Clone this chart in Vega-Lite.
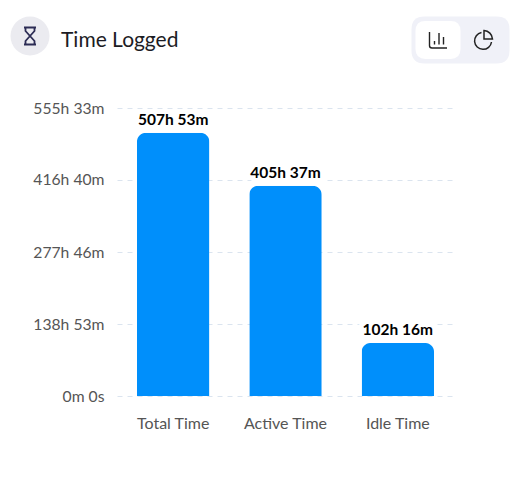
{
  "$schema": "https://vega.github.io/schema/vega-lite/v6.json",
  "width": 337,
  "height": 288,
  "autosize": {"type": "none"},
  "padding": {"left": 117, "top": 108, "right": 60, "bottom": 89},
  "background": "#ffffff",
  "config": {"view": {"stroke": null}, "font": "Lato"},
  "title": {"text": "Time Logged", "anchor": "start", "frame": "group", "dx": -56, "offset": -35, "fontSize": 21, "fontWeight": 400, "font": "Lato", "color": "#1c1c24"},
  "resolve": {"scale": {"x": "independent", "y": "independent"}},
  "layer": [
    {
      "data": {"values": [
        {"metric": "Total Time", "hours": 507.883, "label": "507h 53m"},
        {"metric": "Active Time", "hours": 405.617, "label": "405h 37m"},
        {"metric": "Idle Time", "hours": 102.267, "label": "102h 16m"}
      ]},
      "encoding": {
        "x": {"field": "metric", "type": "nominal", "sort": null, "scale": {"paddingInner": 0.355, "paddingOuter": 0.1775},
          "axis": {"title": null, "domain": false, "ticks": false, "labelAngle": 0, "labelPadding": 19, "labelFont": "Lato", "labelFontSize": 16, "labelColor": "#555555"}},
        "y": {"field": "hours", "type": "quantitative", "scale": {"domain": [0, 555.55], "nice": false},
          "axis": {"title": null, "domain": false, "ticks": false, "values": [0, 138.883, 277.767, 416.667, 555.55],
            "labelExpr": "datum.value == 0 ? '0m 0s' : floor(datum.value) + 'h ' + round((datum.value - floor(datum.value)) * 60) + 'm'",
            "labelPadding": 13, "labelFont": "Lato", "labelFontSize": 15.7, "labelColor": "#555555",
            "grid": true, "gridColor": "#dbe4ef", "gridDash": [5, 5], "gridWidth": 1}}
      },
      "layer": [
        {"mark": {"type": "text", "baseline": "alphabetic", "dy": -8, "font": "Lato", "fontSize": 15.5, "fontWeight": 700, "stroke": "#ffffff", "strokeWidth": 9, "fill": "#ffffff"}, "encoding": {"text": {"field": "label"}}},
        {"mark": {"type": "bar", "color": "#008ffb", "cornerRadiusTopLeft": 9, "cornerRadiusTopRight": 9}},
        {"mark": {"type": "text", "baseline": "alphabetic", "dy": -8, "font": "Lato", "fontSize": 15.5, "fontWeight": 700, "color": "#000000"}, "encoding": {"text": {"field": "label"}}}
      ]
    },
    {
      "data": {"values": [{"control": "badge", "row": "header"}, {"control": "hourglass", "row": "header"}]},
      "encoding": {
        "x": {"field": "control", "type": "nominal", "scale": {"type": "point", "domain": ["badge", "hourglass"], "range": [-87, -87], "padding": 0}, "axis": null},
        "y": {"field": "row", "type": "nominal", "scale": {"type": "point", "domain": ["header"], "range": [-72, -72], "padding": 0}, "axis": null}
      },
      "layer": [
        {"transform": [{"filter": "datum.control == 'badge'"}], "mark": {"type": "point", "shape": "circle", "filled": true, "size": 1521, "color": "#ebebf0", "opacity": 1}},
        {"transform": [{"filter": "datum.control == 'hourglass'"}], "mark": {"type": "point", "filled": false, "size": 400, "opacity": 1, "stroke": "#2c2c54", "strokeWidth": 1.8,
          "shape": "M-0.6,-0.85 L0.6,-0.85 M-0.6,0.85 L0.6,0.85 M-0.45,-0.85 L-0.45,-0.5 L0.45,0.5 L0.45,0.85 M0.45,-0.85 L0.45,-0.5 L-0.45,0.5 L-0.45,0.85"}}
      ]
    },
    {
      "data": {"values": [{"control": "chart button", "row": "header"}, {"control": "toggle group", "row": "header"}, {"control": "pie button", "row": "header"}]},
      "encoding": {
        "x": {"field": "control", "type": "nominal", "scale": {"type": "point", "domain": ["chart button", "toggle group", "pie button"], "range": [321, 366], "padding": 0}, "axis": null},
        "y": {"field": "row", "type": "nominal", "scale": {"type": "point", "domain": ["header"], "range": [-68, -68], "padding": 0}, "axis": null}
      },
      "layer": [
        {"transform": [{"filter": "datum.control == 'toggle group'"}], "mark": {"type": "point", "filled": true, "size": 9604, "opacity": 1, "color": "#f0f1f8",
          "shape": "M-0.735,-0.48 L0.735,-0.48 Q1,-0.48 1,-0.215 L1,0.215 Q1,0.48 0.735,0.48 L-0.735,0.48 Q-1,0.48 -1,0.215 L-1,-0.215 Q-1,-0.48 -0.735,-0.48 Z"}},
        {"transform": [{"filter": "datum.control == 'chart button'"}], "mark": {"type": "point", "filled": true, "size": 2025, "opacity": 1, "color": "#ffffff",
          "shape": "M-0.556,-0.844 L0.556,-0.844 Q1,-0.844 1,-0.4 L1,0.4 Q1,0.844 0.556,0.844 L-0.556,0.844 Q-1,0.844 -1,0.4 L-1,-0.4 Q-1,-0.844 -0.556,-0.844 Z"}},
        {"transform": [{"filter": "datum.control == 'chart button'"}], "mark": {"type": "point", "filled": false, "size": 400, "opacity": 1, "stroke": "#222222", "strokeWidth": 1.4,
          "shape": "M-0.85,-0.8 L-0.85,0.55 Q-0.85,0.8 -0.6,0.8 L0.9,0.8 M-0.35,0.45 L-0.35,0.1 M0.1,0.45 L0.1,-0.7 M0.55,0.45 L0.55,-0.3"}},
        {"transform": [{"filter": "datum.control == 'pie button'"}], "mark": {"type": "point", "filled": false, "size": 400, "opacity": 1, "stroke": "#222222", "strokeWidth": 1.5,
          "shape": "M-0.15,-0.75 A0.85,0.85 0 1 0 0.85,0.2 M0.1,-0.95 A0.9,0.9 0 0 1 0.95,-0.1 L0.1,-0.1 Z"}}
      ]
    }
  ]
}
